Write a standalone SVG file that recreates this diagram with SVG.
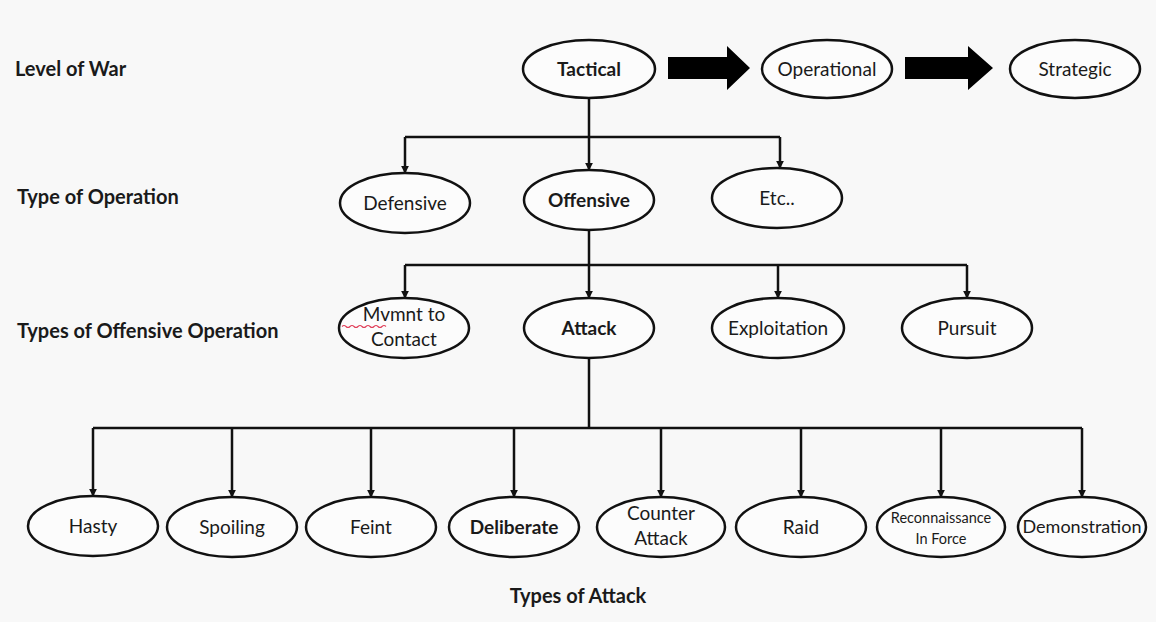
<svg xmlns="http://www.w3.org/2000/svg" width="1156" height="622" viewBox="0 0 1156 622">
  <defs>
    <marker id="arrow" viewBox="0 0 10 10" refX="9" refY="5" markerWidth="8" markerHeight="8" markerUnits="userSpaceOnUse" orient="auto">
      <path d="M0,0 L10,5 L0,10 Z" fill="#111"/>
    </marker>
    <style>
      .node ellipse { fill: #fcfcfc; stroke: #111; stroke-width: 2.5; }
      .node text { font-family: Lato, "Liberation Sans", sans-serif; font-size: 19px; fill: #1a1a1a; text-anchor: middle; }
      .node text.b { font-weight: bold; }
      .node text.s { font-size: 14.5px; }
      .node text.m { font-size: 18px; }
      .label { font-family: Lato, "Liberation Sans", sans-serif; font-size: 20px; font-weight: bold; fill: #1a1a1a; }
      .conn path { fill: none; stroke: #111; stroke-width: 2.5; }
      .conn path.arr { marker-end: url(#arrow); }
      .block { fill: #000; }
    </style>
  </defs>

  <rect width="1156" height="622" fill="#f8f8f8"/>

  <!-- row labels -->
  <text class="label" x="15" y="76">Level of War</text>
  <text class="label" x="17" y="204">Type of Operation</text>
  <text class="label" x="17" y="338">Types of Offensive Operation</text>
  <text class="label" x="578" y="603" text-anchor="middle">Types of Attack</text>

  <!-- connectors -->
  <g id="connectors" class="conn">
    <polygon class="block" points="668,57 727,57 727,46 750,68 727,90 727,79 668,79"/>
    <polygon class="block" points="905,57 968,57 968,46 993,68 968,90 968,79 905,79"/>

    <path d="M589,98 V137"/>
    <path d="M405,137 H780"/>
    <path class="arr" d="M405,137 V173"/>
    <path class="arr" d="M589,137 V170"/>
    <path class="arr" d="M780,137 V168"/>

    <path d="M589,230 V265"/>
    <path d="M405,265 H967"/>
    <path class="arr" d="M405,265 V298"/>
    <path class="arr" d="M589,265 V298"/>
    <path class="arr" d="M778,265 V298"/>
    <path class="arr" d="M967,265 V298"/>

    <path d="M589,358 V428"/>
    <path d="M93,428 H1082"/>
    <path class="arr" d="M93,428 V496"/>
    <path class="arr" d="M232,428 V497"/>
    <path class="arr" d="M371,428 V497"/>
    <path class="arr" d="M514,428 V497"/>
    <path class="arr" d="M661,428 V497"/>
    <path class="arr" d="M801,428 V497"/>
    <path class="arr" d="M941,428 V497"/>
    <path class="arr" d="M1082,428 V497"/>
  </g>

  <!-- level of war -->
  <g id="tactical" class="node">
    <ellipse cx="589" cy="69" rx="66" ry="29"/>
    <text class="b" x="589" y="76">Tactical</text>
  </g>
  <g id="operational" class="node">
    <ellipse cx="827" cy="69" rx="65" ry="29"/>
    <text x="827" y="76">Operational</text>
  </g>
  <g id="strategic" class="node">
    <ellipse cx="1075" cy="69" rx="65" ry="29"/>
    <text x="1075" y="76">Strategic</text>
  </g>

  <!-- type of operation -->
  <g id="defensive" class="node">
    <ellipse cx="405" cy="203" rx="65" ry="30"/>
    <text x="405" y="210">Defensive</text>
  </g>
  <g id="offensive" class="node">
    <ellipse cx="589" cy="200" rx="65" ry="30"/>
    <text class="b" x="589" y="207">Offensive</text>
  </g>
  <g id="etc" class="node">
    <ellipse cx="777" cy="198" rx="65" ry="30"/>
    <text x="777" y="205">Etc..</text>
  </g>

  <!-- types of offensive operation -->
  <g id="mvmnt-to-contact" class="node">
    <ellipse cx="404" cy="328" rx="65" ry="30"/>
    <text x="404" y="321">Mvmnt to</text>
    <path d="M342,326.5 q2,-2 4,0 t4,0 t4,0 t4,0 t4,0 t4,0 t4,0 t4,0 t4,0 t4,0 t4,0" fill="none" stroke="#e0405a" stroke-width="1.1"/>
    <text x="404" y="346">Contact</text>
  </g>
  <g id="attack" class="node">
    <ellipse cx="589" cy="328" rx="65" ry="30"/>
    <text class="b" x="589" y="335">Attack</text>
  </g>
  <g id="exploitation" class="node">
    <ellipse cx="778" cy="328" rx="66" ry="30"/>
    <text x="778" y="335">Exploitation</text>
  </g>
  <g id="pursuit" class="node">
    <ellipse cx="967" cy="328" rx="65" ry="30"/>
    <text x="967" y="335">Pursuit</text>
  </g>

  <!-- types of attack -->
  <g id="hasty" class="node">
    <ellipse cx="93" cy="526" rx="65" ry="30"/>
    <text x="93" y="533">Hasty</text>
  </g>
  <g id="spoiling" class="node">
    <ellipse cx="232" cy="527" rx="65" ry="30"/>
    <text x="232" y="534">Spoiling</text>
  </g>
  <g id="feint" class="node">
    <ellipse cx="371" cy="527" rx="65" ry="30"/>
    <text x="371" y="534">Feint</text>
  </g>
  <g id="deliberate" class="node">
    <ellipse cx="514" cy="527" rx="65" ry="30"/>
    <text class="b" x="514" y="534">Deliberate</text>
  </g>
  <g id="counter-attack" class="node">
    <ellipse cx="661" cy="527" rx="64" ry="30"/>
    <text x="661" y="520">Counter</text>
    <text x="661" y="545">Attack</text>
  </g>
  <g id="raid" class="node">
    <ellipse cx="801" cy="527" rx="65" ry="30"/>
    <text x="801" y="534">Raid</text>
  </g>
  <g id="reconnaissance-in-force" class="node">
    <ellipse cx="941" cy="527" rx="64" ry="30"/>
    <text class="s" x="941" y="523">Reconnaissance</text>
    <text class="s" x="941" y="544">In Force</text>
  </g>
  <g id="demonstration" class="node">
    <ellipse cx="1082" cy="527" rx="64" ry="30"/>
    <text class="m" x="1082" y="533">Demonstration</text>
  </g>
</svg>
